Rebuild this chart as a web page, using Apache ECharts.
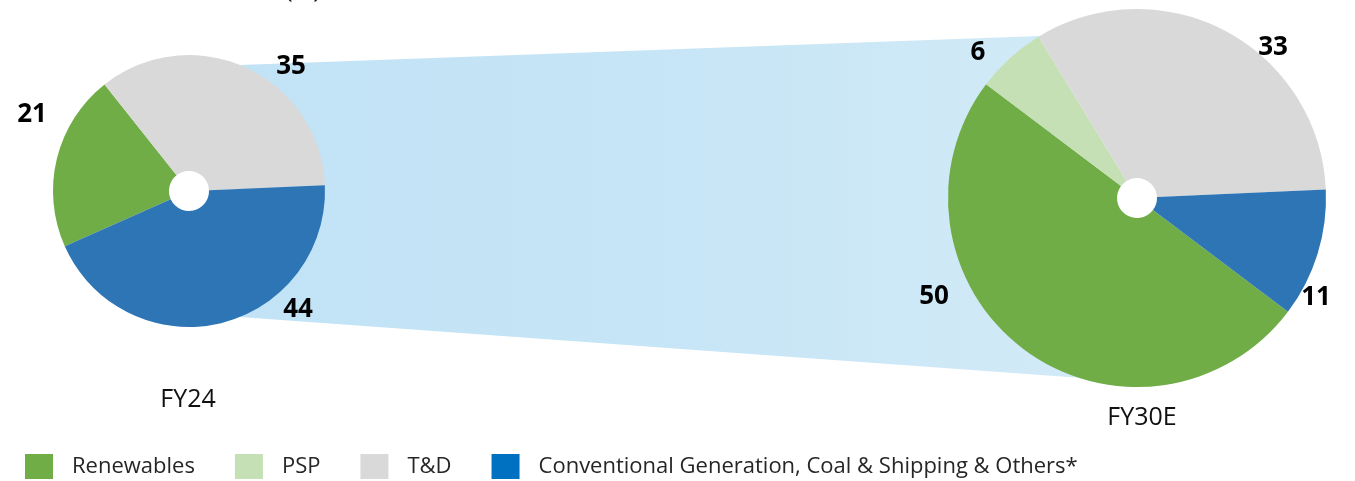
<!DOCTYPE html>
<html>
<head>
<meta charset="utf-8">
<script src="https://cdn.jsdelivr.net/npm/echarts@6/dist/echarts.min.js"></script>
<style>
  html, body { margin: 0; padding: 0; background: #fff; }
  #chart { width: 1355px; height: 481px; }
</style>
</head>
<body>
<div id="chart"></div>
<script>
// data
const categories = ['Renewables', 'PSP', 'T&D', 'Conventional Generation, Coal & Shipping & Others*']
const fy24Values = [21, null, 35, 44]
const fy30Values = [50, 6, 33, 11]
const periods = ['FY24', 'FY30E']

const sliceColors = ['#70AD47', '#C5E0B4', '#D9D9D9', '#2E75B6']
const legendColors = ['#70AD47', '#C5E0B4', '#D9D9D9', '#0070C0']

// layout
const leftPie = { cx: 189, cy: 191, r: 136, hole: 20, start: 204 }
const rightPie = { cx: 1137, cy: 198, r: 189, hole: 20, start: -37 }
// where each value label sits (by category index)
const leftLabelPos = { 0: [32, 115], 2: [291, 67], 3: [298, 310] }
const rightLabelPos = { 0: [934, 297], 1: [978, 53], 2: [1273, 48], 3: [1316, 298] }

const fontFamily = '"Open Sans", "Noto Sans", sans-serif'

const chart = echarts.init(document.getElementById('chart'))

// build pie data, skip empty categories
const buildData = (values) => values
  .map((v, i) => ({ name: categories[i], value: v, idx: i, itemStyle: { color: sliceColors[i] } }))
  .filter(d => d.value !== null)

// point on a pie's rim at an angle (degrees, math orientation)
const rim = (p, deg) => {
  const a = deg * Math.PI / 180
  return [p.cx + p.r * Math.cos(a), p.cy - p.r * Math.sin(a)]
}

const makePie = (values, p, labelPos) => {
  const data = buildData(values)
  return {
    type: 'pie',
    center: [p.cx, p.cy],
    radius: [p.hole, p.r],
    startAngle: p.start,
    clockwise: true,
    avoidLabelOverlap: false,
    z: 5,
    label: {
      show: true,
      position: 'outside',
      formatter: '{c}',
      color: '#000',
      fontSize: 26,
      fontWeight: 'bold',
      fontFamily: fontFamily
    },
    labelLine: { show: false },
    labelLayout: (params) => {
      const pos = labelPos[data[params.dataIndex].idx]
      return { x: pos[0], y: pos[1], align: 'center', verticalAlign: 'middle' }
    },
    emphasis: { disabled: true },
    data: data
  }
}

// connector band between the two pies
const bandPoints = [
  rim(leftPie, 68),
  rim(rightPie, 121),
  rim(rightPie, -108),
  rim(leftPie, -68)
]

chart.setOption({
  animation: false,
  backgroundColor: '#fff',
  legend: {
    left: 25,
    top: 454,
    padding: 0,
    itemWidth: 28,
    itemHeight: 25,
    itemGap: 40,
    icon: 'rect',
    selectedMode: false,
    textStyle: {
      fontSize: 22,
      fontFamily: fontFamily,
      color: '#262626',
      padding: [0, 0, 0, 14]
    },
    data: categories.map((c, i) => ({ name: c, itemStyle: { color: legendColors[i] } }))
  },
  graphic: [
    {
      type: 'polygon',
      z: -10,
      silent: true,
      shape: { points: bandPoints },
      style: {
        fill: new echarts.graphic.LinearGradient(0, 0, 1, 0, [
          { offset: 0, color: '#C2E3F6' },
          { offset: 0.5, color: '#C6E5F6' },
          { offset: 1, color: '#D2EAF7' }
        ])
      }
    },
    {
      type: 'text',
      x: leftPie.cx - 1,
      y: 400,
      style: {
        text: periods[0],
        font: '25px ' + fontFamily,
        fill: '#111',
        textAlign: 'center',
        textVerticalAlign: 'middle'
      }
    },
    {
      type: 'text',
      x: rightPie.cx + 5,
      y: 418,
      style: {
        text: periods[1],
        font: '25px ' + fontFamily,
        fill: '#111',
        textAlign: 'center',
        textVerticalAlign: 'middle'
      }
    },
    {
      type: 'text',
      x: 303,
      y: -10,
      style: {
        text: '(%)',
        font: '25px ' + fontFamily,
        fill: '#111',
        textAlign: 'center',
        textVerticalAlign: 'middle'
      }
    }
  ],
  series: [
    makePie(fy24Values, leftPie, leftLabelPos),
    makePie(fy30Values, rightPie, rightLabelPos)
  ]
})
</script>
</body>
</html>
